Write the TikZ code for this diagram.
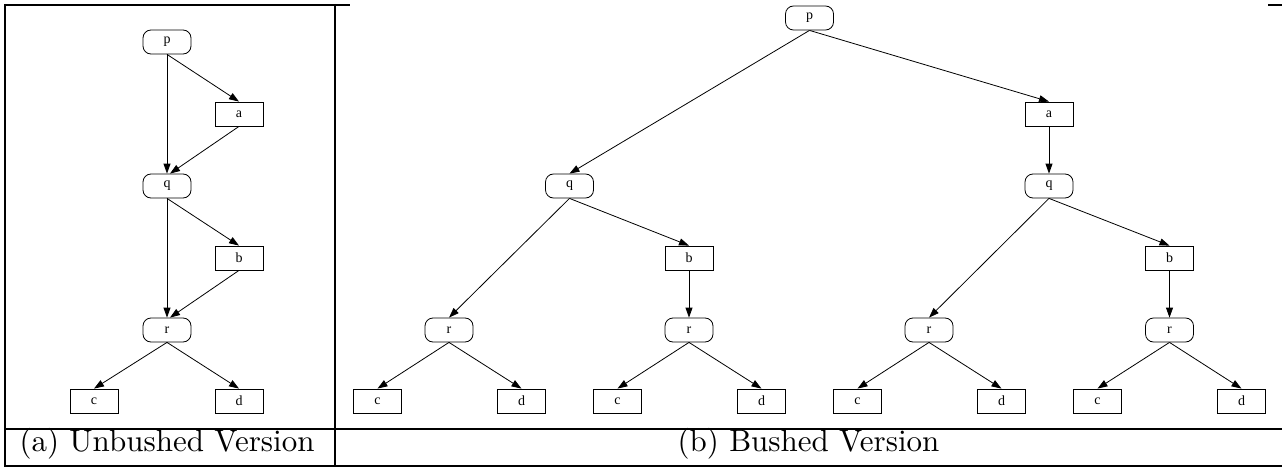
\documentclass[tikz,border=0pt]{standalone}
\usepackage{fontspec}
\newfontfamily\nodefont{Liberation Serif}
\newfontfamily\capfont{lmroman10-regular}[Extension=.otf]
\usetikzlibrary{arrows.meta}
\begin{document}
\begin{tikzpicture}[x=1pt,y=-1pt,
  base/.style={draw, line width=0.8pt, minimum width=48pt, minimum height=24pt, inner sep=0pt, font=\nodefont\fontsize{14}{16}\selectfont},
  rnode/.style={base, rounded corners=8pt},
  snode/.style={base},
  conn/.style={line width=0.8pt, -{Triangle[length=10pt,width=7pt]}},
  framelin/.style={line width=2pt},
  captext/.style={font=\capfont\fontsize{31}{34}\selectfont, inner sep=0pt, anchor=base}]
\useasboundingbox (0,0) rectangle (1282,468);
% frame
\draw[framelin] (5,5) -- (350,5);
\draw[framelin] (1268,5) -- (1282,5);
\draw[framelin] (5,4) -- (5,467);
\draw[framelin] (335,4) -- (335,467);
\draw[framelin] (4,429) -- (1282,429);
\draw[framelin] (4,466) -- (1282,466);
% captions
\node[captext] (capa) at (167,451) {(a) Unbushed Version};
\node[captext] (capb) at (808.5,451) {(b) Bushed Version};
% left graph
\node[rnode] (lp) at (167,42) {p};
\node[snode] (la) at (239,114) {a};
\node[rnode] (lq) at (167,186) {q};
\node[snode] (lb) at (239,258) {b};
\node[rnode] (lr) at (167,330) {r};
\node[snode] (lc) at (94,401) {c};
\node[snode] (ld) at (239,401) {d};
\draw[conn] (lp.south) -- (lq.north);
\draw[conn] (lp.south) -- (la.north);
\draw[conn] (la.south) -- ([xshift=3pt]lq.north);
\draw[conn] (lq.south) -- (lr.north);
\draw[conn] (lq.south) -- (lb.north);
\draw[conn] (lb.south) -- ([xshift=3pt]lr.north);
\draw[conn] (lr.south) -- (lc.north);
\draw[conn] (lr.south) -- (ld.north);
% right graph
\node[rnode] (rp) at (809.5,18) {p};
\node[rnode] (rq1) at (569.5,186) {q};
\node[snode] (ra) at (1049,114) {a};
\node[rnode] (rq2) at (1049,186) {q};
\node[snode] (rb1) at (689,258) {b};
\node[snode] (rb2) at (1169.5,258) {b};
\node[rnode] (rr1) at (449,330) {r};
\node[rnode] (rr2) at (689,330) {r};
\node[rnode] (rr3) at (929,330) {r};
\node[rnode] (rr4) at (1169.5,330) {r};
\node[snode] (rc1) at (377.5,401) {c};
\node[snode] (rd1) at (521.5,401) {d};
\node[snode] (rc2) at (617.5,401) {c};
\node[snode] (rd2) at (761.5,401) {d};
\node[snode] (rc3) at (857.5,401) {c};
\node[snode] (rd3) at (1001.5,401) {d};
\node[snode] (rc4) at (1097.5,401) {c};
\node[snode] (rd4) at (1241.5,401) {d};
\draw[conn] (rp.south) -- (rq1.north);
\draw[conn] (rp.south) -- (ra.north);
\draw[conn] (ra.south) -- (rq2.north);
\draw[conn] (rq1.south) -- (rr1.north);
\draw[conn] (rq1.south) -- (rb1.north);
\draw[conn] (rb1.south) -- (rr2.north);
\draw[conn] (rq2.south) -- (rr3.north);
\draw[conn] (rq2.south) -- (rb2.north);
\draw[conn] (rb2.south) -- (rr4.north);
\draw[conn] (rr1.south) -- (rc1.north);
\draw[conn] (rr1.south) -- (rd1.north);
\draw[conn] (rr2.south) -- (rc2.north);
\draw[conn] (rr2.south) -- (rd2.north);
\draw[conn] (rr3.south) -- (rc3.north);
\draw[conn] (rr3.south) -- (rd3.north);
\draw[conn] (rr4.south) -- (rc4.north);
\draw[conn] (rr4.south) -- (rd4.north);
\end{tikzpicture}
\end{document}
